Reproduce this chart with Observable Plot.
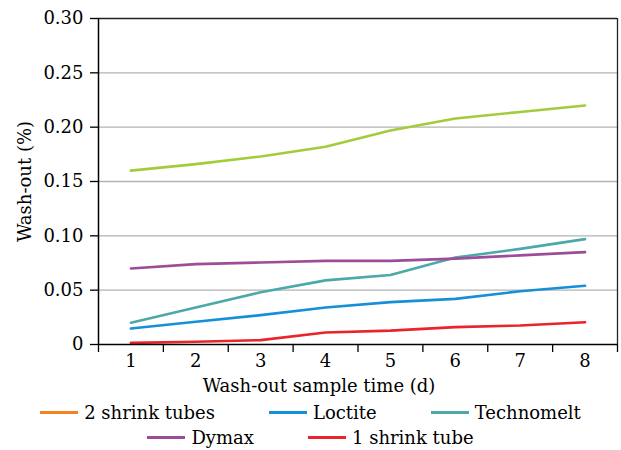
<!DOCTYPE html>
<html>
<head>
<meta charset="utf-8">
<script src="https://cdn.jsdelivr.net/npm/d3@7"></script>
<script src="https://cdn.jsdelivr.net/npm/@observablehq/plot@0.6"></script>
<style>
  body { margin: 0; background: #fff; font-family: "DejaVu Serif", serif; }
  #chart svg { display: block; }
  .legend { width: 621px; font-size: 18px; color: #000; font-family: "DejaVu Serif", serif; }
  .row { display: flex; justify-content: center; column-gap: 54px; height: 25px; align-items: center; }
  .item { display: flex; align-items: center; white-space: nowrap; }
  .sw { width: 38px; height: 3px; margin-right: 6px; }
</style>
</head>
<body>
<div id="chart"></div>
<div class="legend" id="legend"></div>
<script>
const days = [1, 2, 3, 4, 5, 6, 7, 8];
const seriesNames = ["2 shrink tubes", "Loctite", "Technomelt", "Dymax", "1 shrink tube"];
const seriesColors = ["#F5821F", "#1590D8", "#4BA9AA", "#9C4C98", "#E9242D"];
const unlabeledColor = "#A3CC3A";
const unlabeled = [0.160, 0.166, 0.173, 0.182, 0.197, 0.208, 0.214, 0.220];
const loctite    = [0.0147, 0.021, 0.027, 0.034, 0.039, 0.042, 0.049, 0.054];
const technomelt = [0.020, 0.034, 0.048, 0.059, 0.064, 0.080, 0.088, 0.097];
const dymax      = [0.070, 0.074, 0.0755, 0.077, 0.077, 0.079, 0.082, 0.085];
const oneShrink  = [0.0015, 0.0025, 0.004, 0.011, 0.0128, 0.016, 0.0175, 0.0205];
const twoShrink  = []; // not visible in the picture
const yTicks = [0, 0.05, 0.10, 0.15, 0.20, 0.25, 0.30];
const xBoundaries = [0.5, 1.5, 2.5, 3.5, 4.5, 5.5, 6.5, 7.5, 8.5];

const rows = [];
const add = (name, vals) => vals.forEach((v, i) => rows.push({series: name, day: days[i], value: v}));
add("unlabeled", unlabeled);
add("2 shrink tubes", twoShrink);
add("Loctite", loctite);
add("Technomelt", technomelt);
add("Dymax", dymax);
add("1 shrink tube", oneShrink);

const plot = Plot.plot({
  width: 621,
  height: 400,
  marginTop: 18,
  marginBottom: 56,
  marginLeft: 98,
  marginRight: 4,
  style: {fontFamily: "'DejaVu Serif', serif", fontSize: "18px", color: "#000", background: "#fff"},
  x: {domain: [0.5, 8.5]},
  y: {domain: [0, 0.30]},
  color: {domain: ["unlabeled", ...seriesNames], range: [unlabeledColor, ...seriesColors]},
  marks: [
    Plot.gridY(yTicks.filter(d => d > 0 && d < 0.30), {stroke: "#b3b3b3", strokeOpacity: 1, strokeWidth: 1.3}),
    Plot.lineY(rows, {x: "day", y: "value", z: "series", stroke: "series", strokeWidth: 2.6}),
    Plot.ruleY([0.30], {stroke: "#222", strokeWidth: 1.3}),
    Plot.ruleX([8.5], {stroke: "#222", strokeWidth: 1.3}),
    Plot.axisY(yTicks, {tickSize: 8, tickPadding: 7, stroke: "#000", strokeWidth: 1.3,
      tickFormat: d => d === 0 ? "0" : d.toFixed(2),
      label: "Wash-out (%)", labelAnchor: "center", labelArrow: "none", labelOffset: 80}),
    Plot.ruleX([0.5], {stroke: "#000", strokeWidth: 1.5}),
    Plot.ruleY([0], {stroke: "#000", strokeWidth: 1.5}),
    Plot.axisX(xBoundaries, {tickSize: 8, stroke: "#000", strokeWidth: 1.3, tickFormat: () => "", label: null}),
    Plot.axisX(days, {tickSize: 0, tickPadding: 10, label: null}),
    Plot.text(["Wash-out sample time (d)"], {frameAnchor: "bottom", dx: -39, dy: 42, lineAnchor: "middle", fontSize: 18})
  ]
});
document.getElementById("chart").appendChild(plot);

const legend = document.getElementById("legend");
const rowsSpec = [[0, 1, 2], [3, 4]];
for (const r of rowsSpec) {
  const row = document.createElement("div");
  row.className = "row";
  for (const i of r) {
    const it = document.createElement("div");
    it.className = "item";
    const sw = document.createElement("span");
    sw.className = "sw";
    sw.style.background = seriesColors[i];
    const t = document.createElement("span");
    t.textContent = seriesNames[i];
    it.appendChild(sw); it.appendChild(t);
    row.appendChild(it);
  }
  legend.appendChild(row);
}
</script>
</body>
</html>
